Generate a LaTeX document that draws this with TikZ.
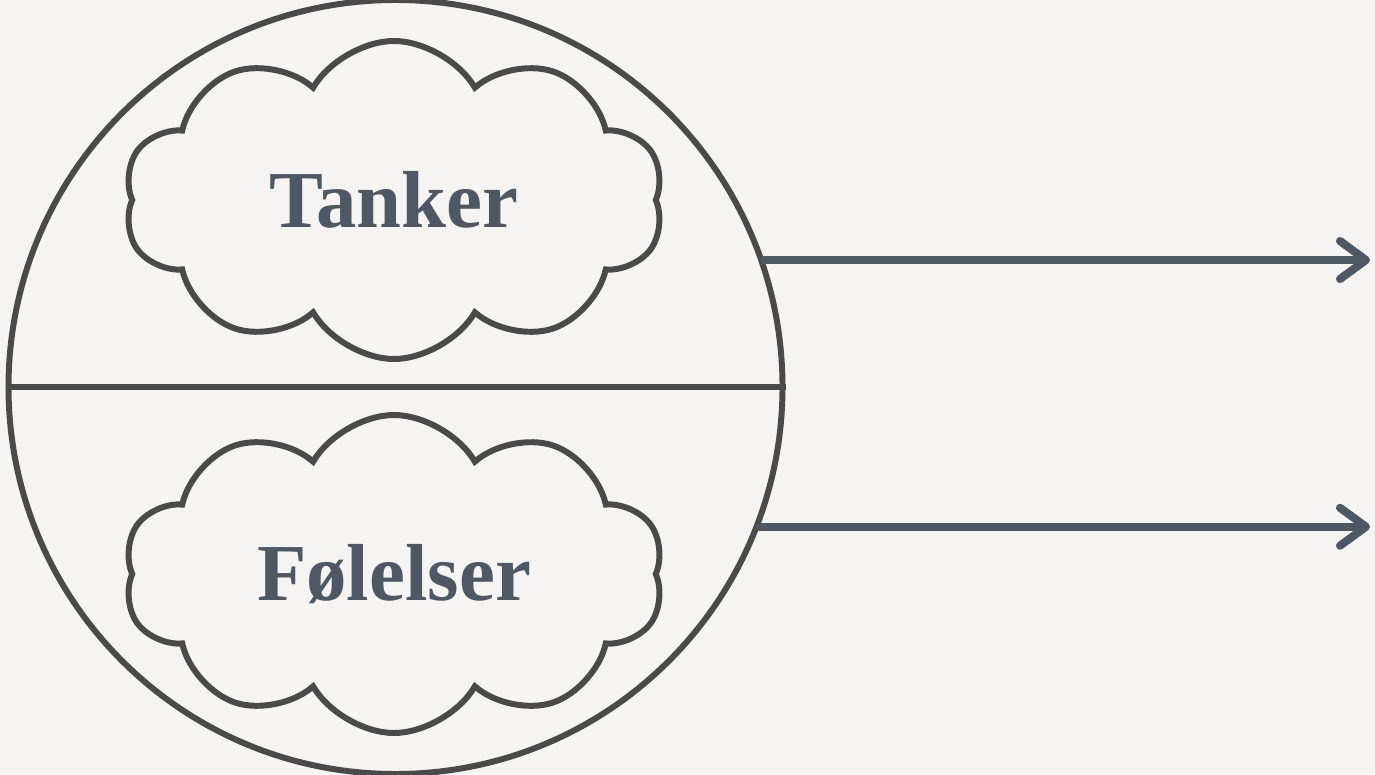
\documentclass[tikz,border=0pt]{standalone}
\usepackage{fontspec}
\setmainfont{Liberation Serif}
\usetikzlibrary{shapes.symbols,arrows.meta}
\definecolor{bg}{HTML}{F5F4F2}
\definecolor{rim}{HTML}{4A4A4A}
\definecolor{slate}{HTML}{4E5864}
\tikzset{
  puff/.style={draw=rim, line width=1.7pt, cloud, cloud puffs=10, cloud puff arc=120,
    aspect=1.66, minimum width=5.4cm, minimum height=3.18cm, inner sep=0pt,
    text=slate, font=\fontsize{23}{27}\selectfont\bfseries},
  flow/.style={draw=slate, line width=2.3pt, line cap=round,
    -{Straight Barb[length=2.6mm, width=3.8mm, line cap=round, line join=round]}}
}
\begin{document}
\begin{tikzpicture}
      \fill[bg] (0,0) rectangle (13.75,-7.74) ;
      \useasboundingbox (0,0) rectangle (13.75,-7.74) ;
      \node[draw=rim, line width=1.7pt, circle, minimum size=7.74cm, inner sep=0pt] (body) at (3.955,-3.87){} ;
      \draw[rim, line width=1.7pt] (body.west) -- (body.east) ;
      \node[puff] (tanker) at (3.94,-2.0){Tanker} ;
      \node[puff] (folelser) at (3.94,-5.74){Følelser} ;
      \coordinate (tend) at (13.70,-2.60) ;
      \coordinate (fend) at (13.70,-5.28) ;
      \draw[flow] (body.19.2) -- (body.19.2 -| tend) ;
      \draw[flow] (body.-21.4) -- (body.-21.4 -| fend) ;
    \end{tikzpicture}
\end{document}
